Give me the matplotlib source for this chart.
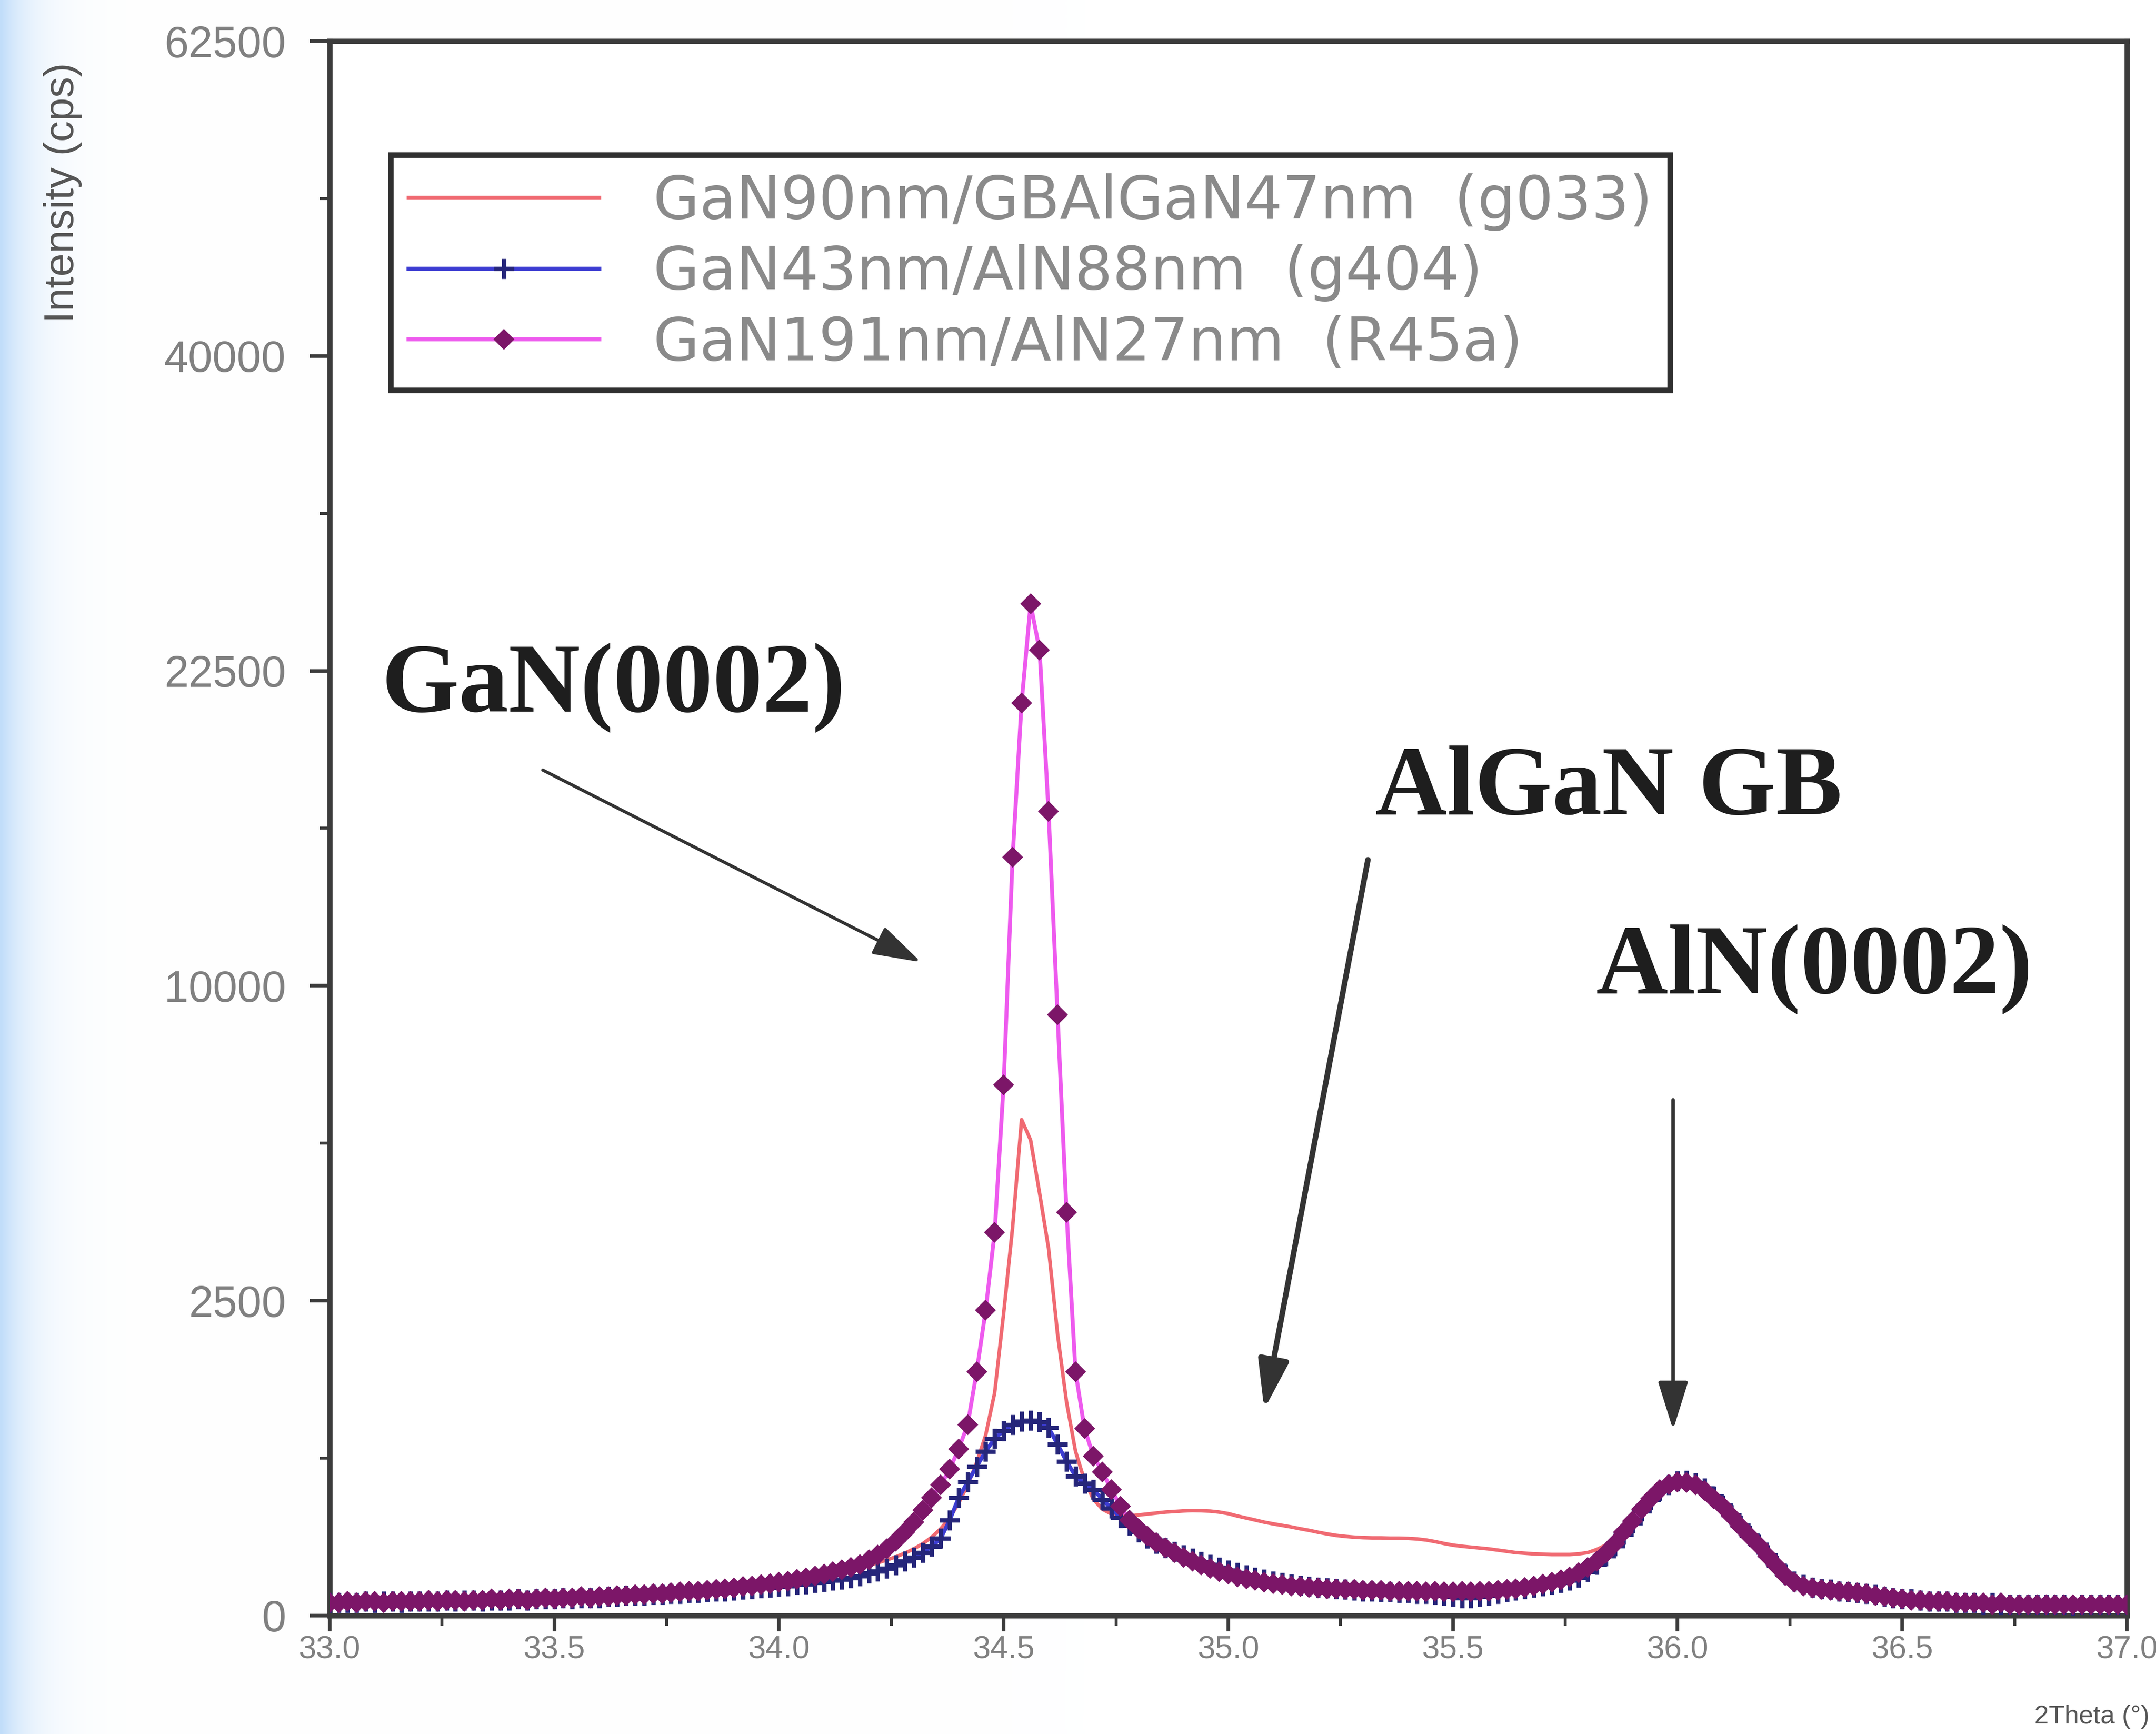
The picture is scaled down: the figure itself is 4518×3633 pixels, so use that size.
"""XRD 2theta scan: GaN / AlN buffer comparison, sqrt intensity axis."""
import matplotlib
matplotlib.use('Agg')
import matplotlib.pyplot as plt
import numpy as np

# 2theta grid of the scan (deg), step 0.02
two_theta = np.round(33.0 + 0.02 * np.arange(201), 2)

# GaN90nm/GBAlGaN47nm (g033)
cps_g033 = [
    5, 5, 5, 5, 6, 5, 6, 6, 6, 6,
    6, 6, 7, 6, 7, 7, 7, 7, 8, 8,
    8, 8, 9, 9, 9, 10, 10, 10, 11, 11,
    12, 12, 13, 13, 14, 14, 15, 16, 16, 17,
    18, 19, 20, 21, 22, 23, 24, 25, 27, 28,
    30, 32, 34, 36, 39, 42, 45, 49, 53, 58,
    64, 70, 78, 87, 98, 112, 130, 155, 190, 240,
    320, 430, 590, 820, 1250, 2300, 3800, 6200, 5700, 4500,
    3400, 2000, 1150, 680, 460, 340, 285, 260, 250, 250,
    255, 260, 265, 270, 273, 276, 278, 277, 275, 270,
    262, 250, 240, 230, 220, 212, 205, 198, 190, 183,
    175, 168, 162, 158, 155, 153, 152, 152, 151, 151,
    150, 148, 144, 138, 131, 125, 121, 118, 115, 112,
    108, 104, 100, 98, 96, 95, 94, 94, 94, 96,
    100, 110, 125, 150, 185, 230, 285, 345, 400, 435,
    452, 450, 432, 398, 350, 295, 245, 195, 150, 115,
    85, 60, 40, 28, 22, 19, 17, 16, 15, 14,
    13, 12, 10, 9, 8, 7, 7, 6, 6, 5,
    5, 5, 4, 4, 4, 4, 4, 3, 4, 3,
    3, 3, 3, 3, 3, 3, 3, 3, 3, 3,
    3,
]

# GaN43nm/AlN88nm (g404)
cps_g404 = [
    4, 4, 4, 4, 5, 4, 5, 5, 4, 5,
    5, 5, 5, 6, 5, 6, 6, 5, 6, 6,
    6, 7, 6, 7, 7, 7, 8, 7, 8, 8,
    8, 9, 9, 10, 10, 10, 11, 11, 12, 12,
    13, 13, 14, 15, 15, 16, 17, 18, 19, 20,
    21, 22, 24, 25, 27, 29, 31, 33, 36, 39,
    45, 50, 56, 64, 74, 85, 100, 120, 150, 230,
    350, 450, 560, 680, 790, 860, 920, 950, 960, 945,
    890, 740, 600, 490, 440, 400, 340, 290, 240, 205,
    175, 150, 130, 115, 103, 92, 82, 73, 65, 58,
    52, 46, 41, 37, 33, 30, 27, 25, 23, 21,
    20, 19, 18, 17, 16, 15, 15, 14, 14, 13,
    13, 12, 12, 11, 10, 9, 8, 8, 9, 10,
    12, 14, 16, 18, 20, 22, 24, 27, 31, 37,
    48, 65, 90, 122, 165, 215, 275, 340, 395, 430,
    455, 460, 445, 410, 360, 305, 255, 205, 162, 128,
    92, 63, 42, 30, 24, 20, 18, 17, 15, 14,
    13, 12, 11, 9, 8, 7, 7, 6, 5, 5,
    5, 4, 4, 4, 3, 4, 3, 3, 3, 3,
    3, 3, 3, 3, 2, 3, 3, 3, 3, 3,
    3,
]

# GaN191nm/AlN27nm (R45a)
cps_r45a = [
    4, 4, 5, 4, 5, 5, 4, 5, 5, 5,
    5, 6, 5, 6, 6, 5, 6, 6, 7, 6,
    7, 7, 6, 7, 8, 7, 8, 8, 9, 8,
    9, 9, 10, 10, 11, 11, 12, 12, 13, 14,
    15, 15, 16, 17, 18, 19, 21, 22, 24, 26,
    28, 30, 33, 36, 39, 43, 48, 53, 59, 66,
    78, 92, 112, 140, 175, 220, 280, 350, 430, 540,
    700, 920, 1500, 2350, 3700, 7100, 14500, 21000, 25800, 23500,
    16300, 9100, 4100, 1500, 880, 640, 520, 400, 300, 230,
    190, 160, 135, 115, 100, 86, 74, 64, 56, 49,
    43, 38, 34, 31, 28, 26, 24, 22, 21, 20,
    19, 18, 18, 17, 17, 16, 16, 16, 15, 15,
    15, 15, 14, 15, 14, 14, 15, 14, 15, 15,
    16, 17, 18, 20, 22, 25, 28, 32, 38, 46,
    58, 75, 98, 130, 175, 225, 285, 345, 400, 435,
    450, 448, 430, 395, 345, 300, 250, 200, 160, 125,
    90, 62, 40, 28, 22, 19, 17, 16, 15, 14,
    13, 12, 10, 9, 8, 7, 6, 6, 5, 5,
    5, 4, 4, 4, 4, 3, 4, 3, 3, 3,
    3, 3, 3, 3, 3, 3, 3, 3, 3, 3,
    3,
]

labels = [
    'GaN90nm/GBAlGaN47nm  (g033)',
    'GaN43nm/AlN88nm  (g404)',
    'GaN191nm/AlN27nm  (R45a)',
]

y_major = [0, 2500, 10000, 22500, 40000, 62500]
y_minor = [625, 5625, 15625, 30625, 50625]
x_major = np.round(np.arange(33.0, 37.01, 0.5), 2)
x_minor = np.round(np.arange(33.25, 37.0, 0.5), 2)


def main():
    fig = plt.figure(figsize=(15.06, 12.11), dpi=300, facecolor='white')

    # pale blue slide background at the left edge
    bg = fig.add_axes([0, 0, 1, 1], zorder=-10)
    bg.axis('off')
    gx = np.linspace(0, 1, 600)
    fade = np.exp(-gx / 0.014)
    img = np.ones((2, 600, 3))
    tint = np.array([0.76, 0.87, 0.98])
    img[:] = 1 - fade[None, :, None] * (1 - tint)
    bg.imshow(img, extent=[0, 1, 0, 1], aspect='auto', interpolation='bilinear')
    bg.set_xlim(0, 1)
    bg.set_ylim(0, 1)

    ax = fig.add_axes([0.1529, 0.0683, 0.8336, 0.908])
    ax.set_facecolor('white')
    ax.set_yscale('function',
                  functions=(lambda v: np.sqrt(np.clip(v, 0, None)),
                             lambda s: np.square(s)))

    ax.plot(two_theta, cps_g033, color='#f06a72', lw=1.8, label=labels[0], zorder=3)
    ax.plot(two_theta, cps_g404, color='#3c3cd2', lw=2.0, marker='+', ms=10,
            mew=2.2, mec='#26267a', label=labels[1], zorder=4)
    ax.plot(two_theta, cps_r45a, color='#ee5aee', lw=2.0, marker='D', ms=6.5,
            mfc='#7c1668', mec='#7c1668', label=labels[2], zorder=5)

    ax.set_xlim(33.0, 37.0)
    ax.set_ylim(0, 62500)
    ax.set_yticks(y_major)
    ax.set_yticks(y_minor, minor=True)
    ax.set_yticklabels([str(v) for v in y_major])
    ax.set_xticks(x_major)
    ax.set_xticks(x_minor, minor=True)
    ax.set_xticklabels([f'{v:.1f}' for v in x_major])

    for sp in ax.spines.values():
        sp.set_color('#3c3c3c')
        sp.set_linewidth(2.6)
    ax.tick_params(axis='y', which='major', direction='out', length=10, width=1.8,
                   pad=12, labelsize=22, labelcolor='#808080', color='#3c3c3c')
    ax.tick_params(axis='y', which='minor', direction='out', length=5, width=1.5,
                   color='#3c3c3c')
    ax.tick_params(axis='x', which='major', direction='out', length=8, width=1.8,
                   pad=2, labelsize=16, labelcolor='#808080', color='#3c3c3c')
    ax.tick_params(axis='x', which='minor', direction='out', length=5, width=1.5,
                   color='#3c3c3c')
    for t in ax.get_xticklabels() + ax.get_yticklabels():
        t.set_family('Liberation Sans')

    leg = ax.legend(loc='upper left', bbox_to_anchor=(0.034, 0.9275),
                    prop={'family': 'DejaVu Sans', 'size': 30},
                    labelcolor='#8a8a8a', frameon=True, fancybox=False,
                    framealpha=1, edgecolor='#303030', borderpad=0.3,
                    labelspacing=0.22, handlelength=3.2, handletextpad=0.9,
                    numpoints=1, borderaxespad=0)
    leg.get_frame().set_linewidth(2.8)

    serif = dict(transform=ax.transAxes, ha='center', va='center', fontsize=50,
                 fontweight='bold', family='Liberation Serif', color='#1e1e1e')
    ax.text(0.158, 0.5895, 'GaN(0002)', **serif)
    ax.text(0.7116, 0.524, 'AlGaN GB', **serif)
    ax.text(0.826, 0.4105, 'AlN(0002)', **serif)

    arrows = [((0.1186, 0.537), (0.329, 0.415), 1.6),
              ((0.5777, 0.480), (0.520, 0.131), 2.8),
              ((0.7475, 0.3275), (0.7475, 0.118), 1.8)]
    for start, tip, lw in arrows:
        ax.annotate('', xy=tip, xytext=start, xycoords='axes fraction',
                    textcoords='axes fraction',
                    arrowprops=dict(arrowstyle='-|>,head_length=0.8,head_width=0.25',
                                    color='#333333', lw=lw, mutation_scale=26,
                                    shrinkA=0, shrinkB=0))

    fig.text(0.029, 0.889, 'Intensity (cps)', rotation=90, ha='center', va='center',
             fontsize=21, color='#555555', family='Liberation Sans')
    fig.text(0.997, 0.003, '2Theta (°)', ha='right', va='bottom', fontsize=13,
             color='#555555', family='Liberation Sans')

    fig.savefig('out.png', dpi=300, facecolor=fig.get_facecolor())
    plt.close(fig)


if __name__ == '__main__':
    main()
